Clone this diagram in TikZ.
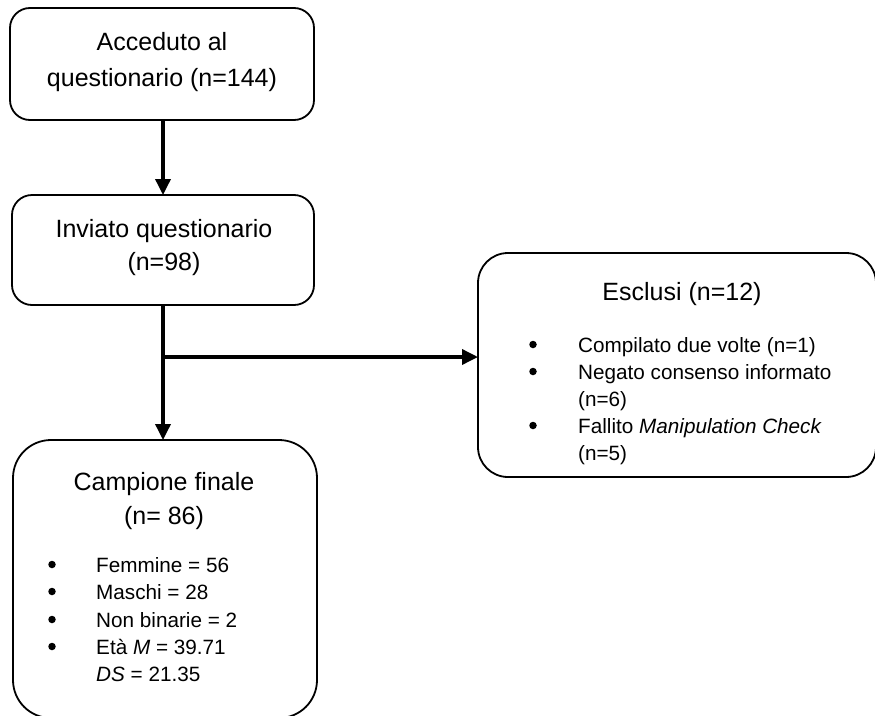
\documentclass[tikz,border=0pt]{standalone}
\usepackage{fontspec}
\setmainfont{Liberation Sans}
\usetikzlibrary{arrows.meta}
\begin{document}
\begin{tikzpicture}[x=1pt,y=-1pt,
  box/.style={draw, line width=1.8pt, rounded corners=#1, inner sep=0pt, outer sep=0pt, anchor=north west},
  box/.default=20pt,
  arr/.style={line width=3.5pt, -{Triangle[length=16pt,width=15pt]}},
  ttl/.style={font=\fontsize{25}{30}\selectfont, anchor=base, inner sep=0pt},
  itm/.style={font=\fontsize{20.7}{25}\selectfont, anchor=base west, inner sep=0pt},
  bul/.style={circle, fill=black, inner sep=0pt, minimum size=7.5pt},
]
\useasboundingbox (0,0) rectangle (875,715);

% boxes
\node[box=20pt, minimum width=304pt, minimum height=112pt] (b1) at (10,8) {};
\node[box=20pt, minimum width=302pt, minimum height=110pt] (b2) at (12,195) {};
\node[box=30pt, minimum width=398pt, minimum height=224pt] (b3) at (478,253) {};
\node[box=38pt, minimum width=304pt, minimum height=278pt] (b4) at (13,440) {};

% box 1 text
\node[ttl] (t1a) at (162,50) {Acceduto al};
\node[ttl] (t1b) at (162,86) {questionario (n=144)};

% box 2 text
\node[ttl] (t2a) at (164,237) {Inviato questionario};
\node[ttl] (t2b) at (164,270) {(n=98)};

% box 3 text
\node[ttl] (t3) at (682,300) {Esclusi (n=12)};
\node[bul] (e1b) at (533,344.5) {};
\node[itm] (e1) at (578,352) {Compilato due volte (n=1)};
\node[bul] (e2b) at (533,371.5) {};
\node[itm] (e2) at (578,379) {Negato consenso informato};
\node[itm] (e2c) at (578,406) {(n=6)};
\node[bul] (e3b) at (533,425.5) {};
\node[itm] (e3) at (578,433) {Fallito \textit{Manipulation Check}};
\node[itm] (e3c) at (578,460) {(n=5)};

% box 4 text
\node[ttl] (t4a) at (164,490) {Campione finale};
\node[ttl] (t4b) at (164,524) {(n= 86)};
\node[bul] (c1b) at (52,564.5) {};
\node[itm] (c1) at (96,572) {Femmine = 56};
\node[bul] (c2b) at (52,591.5) {};
\node[itm] (c2) at (96,599) {Maschi = 28};
\node[bul] (c3b) at (52,619.5) {};
\node[itm] (c3) at (96,627) {Non binarie = 2};
\node[bul] (c4b) at (52,646.5) {};
\node[itm] (c4) at (96,654) {Età \textit{M} = 39.71};
\node[itm] (c5) at (96,681) {\textit{DS} = 21.35};

% connectors
\coordinate (top) at (163,120);
\coordinate (j) at (163,357);
\draw[arr] (b1.south -| top) -- (b2.north -| top);
\draw[arr] (b2.south -| top) -- (b4.north -| top);
\draw[arr] (j) -- (j -| b3.west);
\end{tikzpicture}
\end{document}
